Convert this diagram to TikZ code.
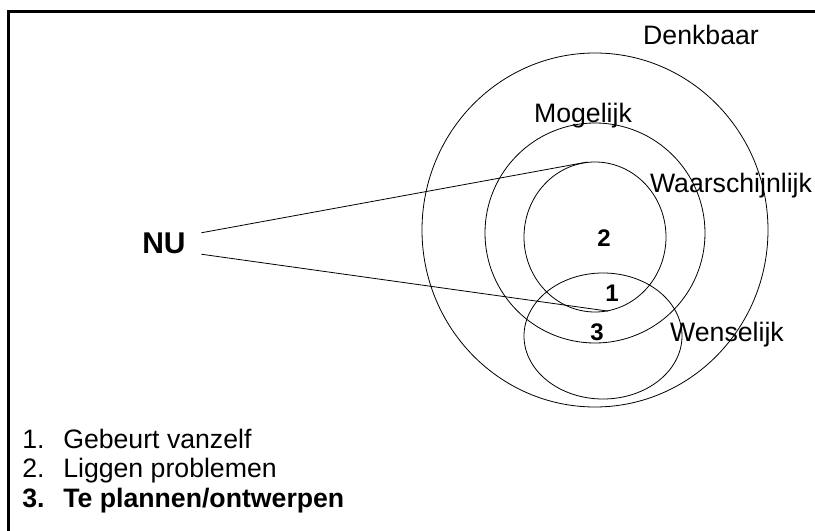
\documentclass[tikz,border=0pt]{standalone}
\usepackage{fontspec}
\setmainfont{Liberation Sans}
\usetikzlibrary{shapes.geometric}

\begin{document}
\begin{tikzpicture}[x=0.75pt, y=-0.75pt,
  set/.style={draw, ellipse, inner sep=0pt, line width=0.6pt},
  setname/.style={anchor=base, inner sep=0pt, font=\fontsize{20}{24}\selectfont},
  zone/.style={anchor=base, inner sep=0pt, font=\bfseries\fontsize{18}{22}\selectfont},
  legend/.style={anchor=base west, inner sep=0pt, font=\fontsize{20}{24}\selectfont}]

\useasboundingbox (0,0) rectangle (815,531);

\draw[line width=1.9pt] (8.5,531) -- (8.5,11.5) -- (815,11.5);

\node[set, minimum width=259.5pt, minimum height=265.5pt] (denkbaar) at (595,230) {};
\node[set, minimum width=165pt, minimum height=165pt] (mogelijk) at (595,233) {};
\node[set, minimum width=106.5pt, minimum height=112.5pt] (waarschijnlijk) at (595,237) {};
\node[set, minimum width=118.5pt, minimum height=94.5pt] (wenselijk) at (603,336) {};

\node[setname] (denkbaarname) at (701,45) {Denkbaar};
\node[setname] (mogelijkname) at (583,123) {Mogelijk};
\node[setname] (waarschijnlijkname) at (731,193) {Waarschijnlijk};
\node[setname] (wenselijkname) at (727,342) {Wenselijk};

\node[zone] (zone2) at (604,247) {2};
\node[zone] (zone1) at (612,302) {1};
\node[zone] (zone3) at (597,340) {3};

\node[font=\bfseries\fontsize{22.5}{27}\selectfont, inner xsep=11.6pt, inner ysep=0pt] (nu) at (164,243.5) {NU};
\draw[line width=0.6pt] (nu.north east) -- (waarschijnlijk.96);
\draw[line width=0.6pt] (nu.south east) -- (waarschijnlijk.-80);

\node[legend] (item1) at (22,448) {\makebox[30.75pt][l]{1.}Gebeurt vanzelf};
\node[legend] (item2) at (22,477) {\makebox[30.75pt][l]{2.}Liggen problemen};
\node[legend, font=\bfseries\fontsize{20}{24}\selectfont] (item3) at (22,507) {\makebox[30.75pt][l]{3.}Te plannen/ontwerpen};

\end{tikzpicture}
\end{document}
